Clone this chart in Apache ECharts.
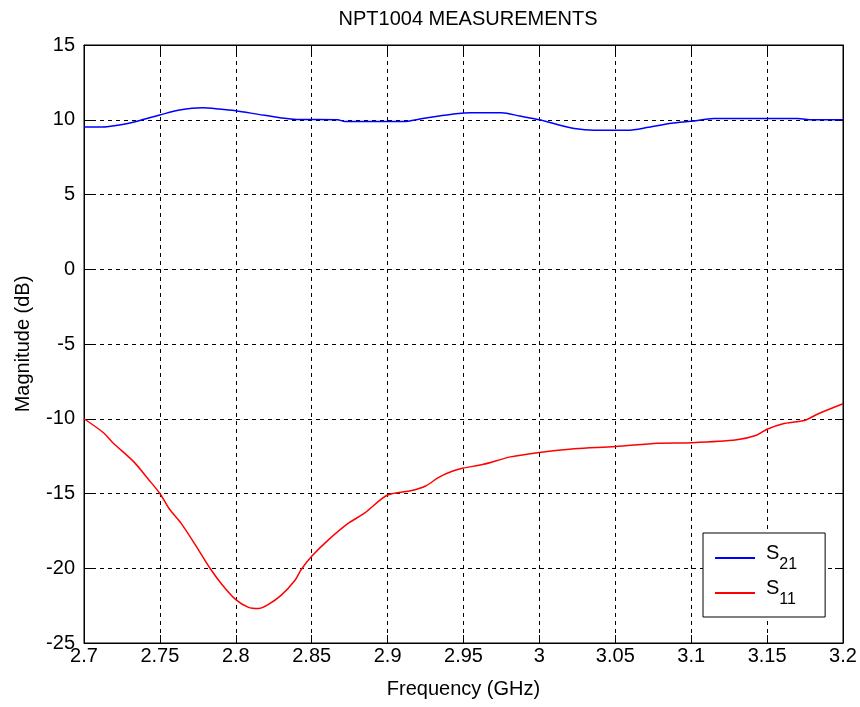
<!DOCTYPE html>
<html>
<head>
<meta charset="utf-8">
<script src="https://cdn.jsdelivr.net/npm/echarts@6/dist/echarts.min.js"></script>
<style>
  html, body { margin: 0; padding: 0; background: #fff; }
  #chart { width: 860px; height: 707px; }
</style>
</head>
<body>
<div id="chart"></div>
<script>
// Frequency sweep, GHz
const freqS21 = [2.700, 2.712, 2.720, 2.731, 2.750, 2.763, 2.778, 2.789, 2.800, 2.815, 2.829, 2.840,
  2.867, 2.872, 2.910, 2.923, 2.934, 2.945, 2.955, 2.975, 2.987, 3.000, 3.010, 3.023, 3.036,
  3.058, 3.072, 3.087, 3.100, 3.115, 3.170, 3.180, 3.200];
// Gain S21, dB
const s21 = [9.52, 9.52, 9.6, 9.8, 10.32, 10.65, 10.8, 10.72, 10.6, 10.36, 10.14, 10.02,
  10.0, 9.88, 9.88, 10.08, 10.25, 10.4, 10.46, 10.46, 10.25, 10.0, 9.73, 9.42, 9.3,
  9.3, 9.5, 9.77, 9.9, 10.08, 10.08, 10.0, 10.0];

const freqS11 = [2.700, 2.713, 2.719, 2.733, 2.742, 2.750, 2.756, 2.764, 2.775, 2.783, 2.791, 2.800,
  2.808, 2.815, 2.821, 2.830, 2.839, 2.843, 2.850, 2.861, 2.874, 2.885, 2.900, 2.916, 2.925,
  2.934, 2.943, 2.950, 2.963, 2.981, 3.000, 3.023, 3.050, 3.078, 3.100, 3.130, 3.143, 3.150,
  3.160, 3.175, 3.183, 3.200];
// Input return loss S11, dB
const s11 = [-10.0, -10.95, -11.6, -12.9, -14.0, -15.0, -16.0, -17.0, -18.7, -20.0, -21.1, -22.1,
  -22.6, -22.7, -22.45, -21.8, -20.8, -20.1, -19.2, -18.1, -17.0, -16.3, -15.1, -14.8, -14.5,
  -13.9, -13.5, -13.3, -13.05, -12.55, -12.25, -12.0, -11.86, -11.64, -11.6, -11.4, -11.1, -10.7,
  -10.35, -10.1, -9.7, -9.0];

const seriesNames = ['S21', 'S11'];
const seriesSubs = { S21: '21', S11: '11' };

const pairs = (xs, ys) => xs.map((x, i) => [x, ys[i]]);

const FONT = 'Liberation Sans, Arial, sans-serif';
const gridDash = { color: '#000', width: 1, type: [4, 4] };
const tick = { show: true, inside: true, length: 8, lineStyle: { color: '#000', width: 1 } };

const xBase = { type: 'value', min: 2.7, max: 3.2, interval: 0.05 };
const yBase = { type: 'value', min: -25, max: 15, interval: 5 };

const chart = echarts.init(document.getElementById('chart'), null, { renderer: 'canvas' });
chart.setOption({
  animation: false,
  backgroundColor: '#fff',
  title: {
    text: 'NPT1004 MEASUREMENTS',
    left: 463, top: 4, textAlign: 'center',
    textStyle: { fontFamily: FONT, fontSize: 20, fontWeight: 'normal', color: '#000' }
  },
  grid: {
    left: 84, right: 17, top: 45, bottom: 64,
    show: true, borderColor: '#000', borderWidth: 1, backgroundColor: '#fff'
  },
  legend: {
    data: seriesNames,
    orient: 'vertical',
    left: 703, top: 533,
    padding: [9, 28, 9, 12],
    itemGap: 4,
    itemWidth: 40, itemHeight: 2,
    icon: 'rect',
    backgroundColor: '#fff',
    borderColor: '#000', borderWidth: 1,
    formatter: name => '{s|S}{sub|' + seriesSubs[name] + '}',
    textStyle: {
      fontFamily: FONT, color: '#000',
      padding: [0, 0, 0, 6],
      rich: {
        s: { fontFamily: FONT, fontSize: 20, color: '#000', lineHeight: 30, verticalAlign: 'top', padding: [0, 0, 8, 0] },
        sub: { fontFamily: FONT, fontSize: 16, color: '#000', lineHeight: 30, verticalAlign: 'bottom', padding: [15, 0, 0, 0] }
      }
    }
  },
  xAxis: [
    Object.assign({}, xBase, {
      position: 'bottom',
      name: 'Frequency (GHz)', nameLocation: 'middle', nameGap: 36,
      nameTextStyle: { fontFamily: FONT, fontSize: 20, color: '#000' },
      axisLine: { show: true, onZero: false, lineStyle: { color: '#000', width: 1 } },
      axisTick: tick,
      axisLabel: {
        fontFamily: FONT, fontSize: 20, color: '#000', margin: 3,
        formatter: v => String(parseFloat(v.toFixed(2)))
      },
      splitLine: { show: true, lineStyle: gridDash }
    }),
    Object.assign({}, xBase, {
      position: 'top',
      axisLine: { show: true, onZero: false, lineStyle: { color: '#000', width: 1 } },
      axisTick: tick, axisLabel: { show: false }, splitLine: { show: false }
    })
  ],
  yAxis: [
    Object.assign({}, yBase, {
      position: 'left',
      name: 'Magnitude (dB)', nameLocation: 'middle', nameGap: 51, nameRotate: 90,
      nameTextStyle: { fontFamily: FONT, fontSize: 20, color: '#000' },
      axisLine: { show: true, onZero: false, lineStyle: { color: '#000', width: 1 } },
      axisTick: tick,
      axisLabel: { fontFamily: FONT, fontSize: 20, color: '#000', margin: 9 },
      splitLine: { show: true, lineStyle: gridDash }
    }),
    Object.assign({}, yBase, {
      position: 'right',
      axisLine: { show: true, onZero: false, lineStyle: { color: '#000', width: 1 } },
      axisTick: tick, axisLabel: { show: false }, splitLine: { show: false }
    })
  ],
  series: [
    {
      name: 'S21', type: 'line', data: pairs(freqS21, s21),
      showSymbol: false, smooth: 0.3, color: '#0000ff',
      lineStyle: { color: '#0000ff', width: 1.5 }, z: 5
    },
    {
      name: 'S11', type: 'line', data: pairs(freqS11, s11),
      showSymbol: false, smooth: 0.3, color: '#ff0000',
      lineStyle: { color: '#ff0000', width: 1.5 }, z: 5
    }
  ]
});
</script>
</body>
</html>
